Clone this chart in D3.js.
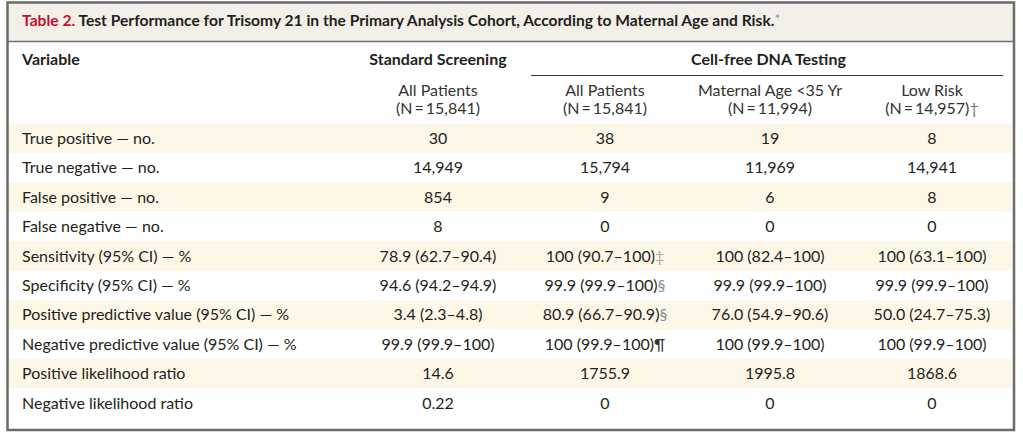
<!DOCTYPE html>
<html><head><meta charset="utf-8">
<script src="https://cdn.jsdelivr.net/npm/d3@7"></script>
<style>
html,body{margin:0;padding:0;background:#fff;}
svg{display:block;font-family:Lato,"Open Sans",sans-serif;}
</style></head>
<body>
<svg id="c" width="1023" height="440"></svg>
<script>
const titleLabel = "Table 2.";
const titleText = " Test Performance for Trisomy 21 in the Primary Analysis Cohort, According to Maternal Age and Risk.";
const titleMark = "*";
const groupHeaders = ["Standard Screening", "Cell-free DNA Testing"];
const colNames = ["All Patients", "All Patients", "Maternal Age <35 Yr", "Low Risk"];
const colNs = ["(N\u2009=\u200915,841)", "(N\u2009=\u200915,841)", "(N\u2009=\u200911,994)", "(N\u2009=\u200914,957)"];
const colNMarks = ["", "", "", "†"];
const rowLabels = [
  "True positive — no.",
  "True negative — no.",
  "False positive — no.",
  "False negative — no.",
  "Sensitivity (95% CI) — %",
  "Specificity (95% CI) — %",
  "Positive predictive value (95% CI) — %",
  "Negative predictive value (95% CI) — %",
  "Positive likelihood ratio",
  "Negative likelihood ratio"
];
const standardAll = ["30", "14,949", "854", "8", "78.9 (62.7–90.4)", "94.6 (94.2–94.9)", "3.4 (2.3–4.8)", "99.9 (99.9–100)", "14.6", "0.22"];
const cfdnaAll = ["38", "15,794", "9", "0", "100 (90.7–100)", "99.9 (99.9–100)", "80.9 (66.7–90.9)", "100 (99.9–100)", "1755.9", "0"];
const cfdnaAllMarks = ["", "", "", "", "‡", "§", "§", "¶", "", ""];
const cfdnaAge = ["19", "11,969", "6", "0", "100 (82.4–100)", "99.9 (99.9–100)", "76.0 (54.9–90.6)", "100 (99.9–100)", "1995.8", "0"];
const cfdnaLow = ["8", "14,941", "8", "0", "100 (63.1–100)", "99.9 (99.9–100)", "50.0 (24.7–75.3)", "100 (99.9–100)", "1868.6", "0"];

const columns = [standardAll, cfdnaAll, cfdnaAge, cfdnaLow];
const columnMarks = [null, cfdnaAllMarks, null, null];

const svg = d3.select("#c");
const box = {x0: 7.5, x1: 1014, y0: 2.5, y1: 430};
const fontSize = 16;
const textColor = "#231f20";

// Title band
svg.append("rect").attr("x", box.x0).attr("y", box.y0).attr("width", box.x1 - box.x0).attr("height", 41 - box.y0)
  .attr("fill", "#f3f0ea");
svg.append("line").attr("x1", box.x0).attr("x2", box.x1).attr("y1", 41.5).attr("y2", 41.5)
  .attr("stroke", "#6f6f6f").attr("stroke-width", 1.5);

const title = svg.append("text").attr("x", 22).attr("y", 26).attr("font-size", 15.6).attr("font-weight", "bold").attr("fill", textColor);
title.append("tspan").attr("fill", "#c8102e").text(titleLabel);
title.append("tspan").text(titleText);
title.append("tspan").attr("fill", "#9a9a9a").attr("font-weight", "normal").attr("font-size", 14).attr("dy", -2).text(titleMark);

// Scales
const y = d3.scaleBand().domain(d3.range(rowLabels.length)).range([123.5, 418]).paddingInner(0).paddingOuter(0);
const x = d3.scaleOrdinal().domain(d3.range(columns.length)).range([438, 605, 770, 932]);

// Row shading
svg.append("g").selectAll("rect").data(rowLabels).join("rect")
  .attr("x", box.x0 + 1.5).attr("width", box.x1 - box.x0 - 3)
  .attr("y", (d, i) => y(i)).attr("height", y.bandwidth())
  .attr("fill", (d, i) => i % 2 === 0 ? "#fdf7e7" : "#ffffff");

// Group headers
svg.append("text").attr("x", 22).attr("y", 65).attr("font-size", fontSize).attr("font-weight", "bold").attr("fill", textColor).text("Variable");
svg.append("text").attr("x", x(0)).attr("y", 65).attr("text-anchor", "middle").attr("font-size", fontSize).attr("font-weight", "bold").attr("fill", textColor).text(groupHeaders[0]);
svg.append("text").attr("x", (x(1) + x(3)) / 2).attr("y", 65).attr("text-anchor", "middle").attr("font-size", fontSize).attr("font-weight", "bold").attr("fill", textColor).text(groupHeaders[1]);
svg.append("line").attr("x1", 531).attr("x2", 1003).attr("y1", 75.5).attr("y2", 75.5).attr("stroke", "#333").attr("stroke-width", 1.2);

// Column sub-headers
const sub = svg.append("g").attr("font-size", fontSize).attr("fill", "#333").attr("text-anchor", "middle");
sub.selectAll("text.n1").data(colNames).join("text").attr("class", "n1")
  .attr("x", (d, i) => x(i)).attr("y", 96).text(d => d);
const n2 = sub.selectAll("text.n2").data(colNs).join("text").attr("class", "n2")
  .attr("x", (d, i) => x(i)).attr("y", 114);
n2.append("tspan").text(d => d);
n2.append("tspan").attr("fill", "#777").text((d, i) => colNMarks[i]);

// Row labels
svg.append("g").selectAll("text").data(rowLabels).join("text")
  .attr("x", 22).attr("y", (d, i) => y(i) + y.bandwidth() / 2 + 5.5)
  .attr("font-size", fontSize).attr("fill", textColor).text(d => d);

// Values
const markColor = {"‡": "#aaa", "§": "#888", "¶": "#333", "†": "#777"};
columns.forEach((col, ci) => {
  const g = svg.append("g").attr("font-size", fontSize).attr("fill", textColor).attr("text-anchor", "middle");
  const t = g.selectAll("text").data(col).join("text")
    .attr("x", x(ci)).attr("y", (d, i) => y(i) + y.bandwidth() / 2 + 5.5);
  t.append("tspan").text(d => d);
  if (columnMarks[ci]) {
    t.append("tspan").attr("fill", (d, i) => markColor[columnMarks[ci][i]] || textColor).text((d, i) => columnMarks[ci][i]);
  }
});

// Outer border
svg.append("rect").attr("x", box.x0).attr("y", box.y0).attr("width", box.x1 - box.x0).attr("height", box.y1 - box.y0)
  .attr("fill", "none").attr("stroke", "#6b6b6b").attr("stroke-width", 2.5);
</script>
</body></html>
